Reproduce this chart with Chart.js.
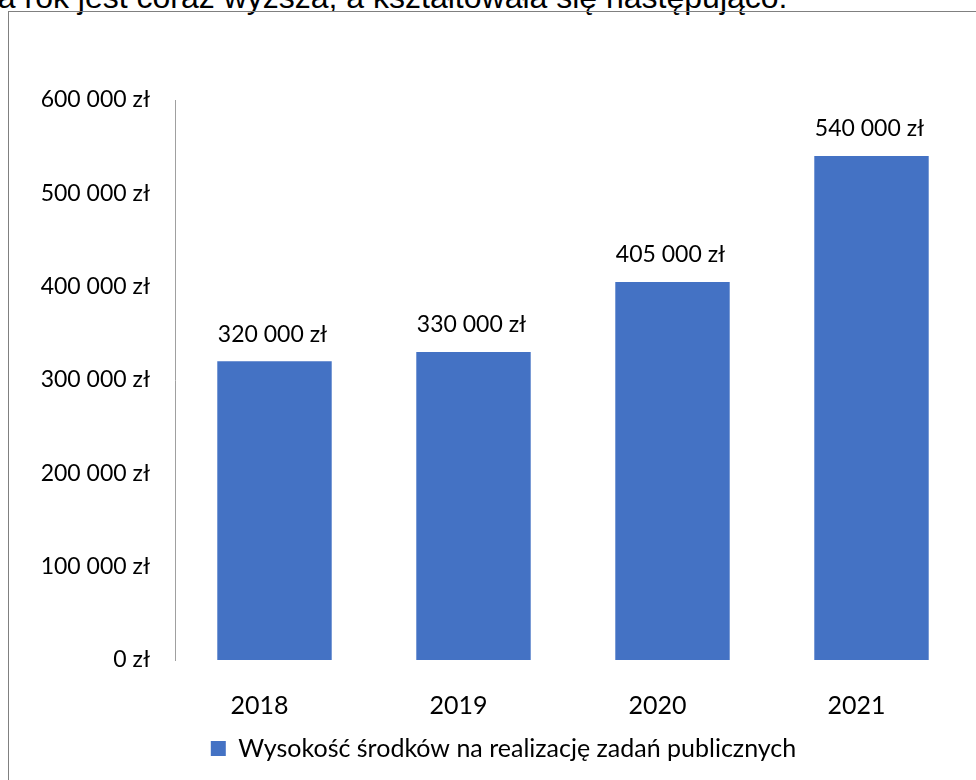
<!DOCTYPE html>
<html lang="pl">
<head>
<meta charset="utf-8">
<title>Wysokość środków na realizację zadań publicznych</title>
<script src="https://cdn.jsdelivr.net/npm/chart.js@4.4.1/dist/chart.umd.min.js"></script>
<style>
  html, body { margin: 0; padding: 0; background: #fff; overflow: hidden; }
  #page { position: relative; width: 976px; height: 780px; overflow: hidden; }
  #intro {
    position: absolute; left: -20px; top: -19px;
    font-family: 'Liberation Sans', Arial, sans-serif;
    font-size: 32px; line-height: 32px; white-space: nowrap; color: #000;
  }
  #frame {
    position: absolute; left: 8px; top: 11px; width: 1000px; height: 800px;
    border-left: 1px solid #808080; border-top: 1px solid #808080;
  }
  #chart-wrap { position: absolute; left: 0; top: 0; width: 976px; height: 780px; }
</style>
</head>
<body>
<div id="page">
  <div id="intro">na rok jest coraz wyższa, a kształtowała się następująco:</div>
  <div id="frame"></div>
  <div id="chart-wrap"><canvas id="bar-chart"></canvas></div>
</div>
<script>
// dane
const years = ['2018', '2019', '2020', '2021'];
const amounts = [320000, 330000, 405000, 540000];
const seriesLabel = 'Wysokość środków na realizację zadań publicznych';
const yTicks = [0, 100000, 200000, 300000, 400000, 500000, 600000];

const BAR_BLUE = '#4472C4';
const FONT = 'Lato, "Noto Sans", sans-serif';

function formatZl(value) {
  return value.toString().replace(/\B(?=(\d{3})+(?!\d))/g, ' ') + ' zł';
}

// etykiety wartości nad słupkami
const valueLabels = {
  id: 'valueLabels',
  afterDatasetsDraw(chart) {
    const ctx = chart.ctx;
    const meta = chart.getDatasetMeta(0);
    ctx.save();
    ctx.font = '23px ' + FONT;
    ctx.fillStyle = '#000';
    ctx.textAlign = 'center';
    ctx.textBaseline = 'middle';
    meta.data.forEach((bar, i) => {
      ctx.fillText(formatZl(amounts[i]), bar.x - 2, bar.y - 27);
    });
    ctx.restore();
  }
};

// nie wiecej niz ~38, inaczej etykiety osi Y sa przycinane
const LEFT_PAD = 36;

new Chart(document.getElementById('bar-chart'), {
  type: 'bar',
  data: {
    labels: years,
    datasets: [{
      label: seriesLabel,
      data: amounts,
      backgroundColor: BAR_BLUE,
      borderWidth: 0,
      categoryPercentage: 1,
      barPercentage: 0.575
    }]
  },
  options: {
    responsive: true,
    maintainAspectRatio: false,
    animation: false,
    layout: { padding: { left: LEFT_PAD, right: 5, top: 100, bottom: 9 } },
    plugins: {
      legend: {
        position: 'bottom',
        labels: {
          color: '#000',
          font: { size: 25, family: FONT },
          boxWidth: 15,
          boxHeight: 15,
          padding: 10
        }
      },
      tooltip: { enabled: false }
    },
    scales: {
      x: {
        grid: { display: false, drawTicks: false },
        border: { display: false },
        ticks: {
          color: '#000',
          font: { size: 25, family: FONT },
          padding: 31,
          labelOffset: -15
        },
        afterFit(scale) {
          const legendH = scale.chart.legend ? scale.chart.legend.height : 0;
          scale.height = 780 - 660 - legendH - 9;
        }
      },
      y: {
        min: 0,
        max: 600000,
        grid: { display: false, drawTicks: false },
        border: { display: true, color: '#a0a0a0', width: 1 },
        afterBuildTicks(scale) {
          scale.ticks = yTicks.map(v => ({ value: v }));
        },
        ticks: {
          color: '#000',
          font: { size: 23, family: FONT },
          padding: 25,
          callback: (v) => formatZl(v)
        },
        afterFit(scale) {
          scale.width = 175 - LEFT_PAD;
        }
      }
    }
  },
  plugins: [valueLabels]
});
</script>
</body>
</html>
